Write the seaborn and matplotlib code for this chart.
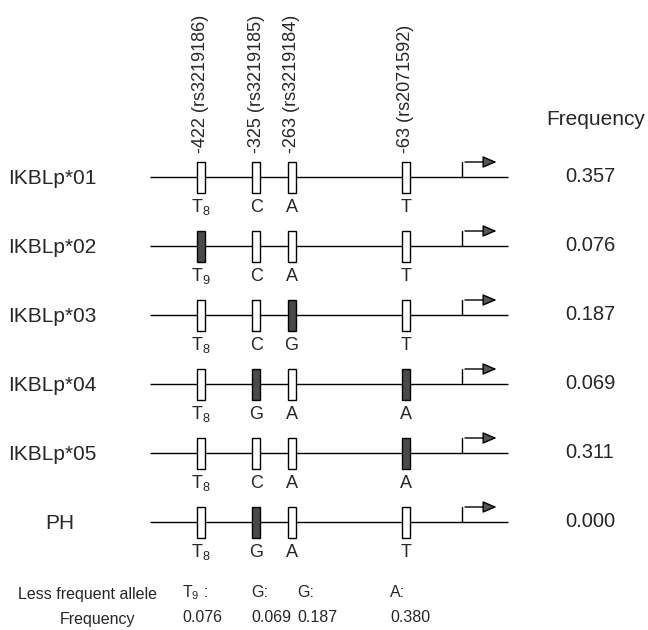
import matplotlib
matplotlib.use("Agg")
import matplotlib.pyplot as plt
import numpy as np
import pandas as pd
import seaborn as sns

# haplotypes and SNP sites (bp upstream of transcription start)
haplotypes = ["IKBLp*01", "IKBLp*02", "IKBLp*03", "IKBLp*04", "IKBLp*05", "PH"]
freqs = ["0.357", "0.076", "0.187", "0.069", "0.311", "0.000"]
sites = [-422, -325, -263, -63]
site_labels = ["-422 (rs3219186)", "-325 (rs3219185)", "-263 (rs3219184)", "-63 (rs2071592)"]
alleles = [
    ["T_8", "C", "A", "T"],
    ["T_9", "C", "A", "T"],
    ["T_8", "C", "G", "T"],
    ["T_8", "G", "A", "A"],
    ["T_8", "C", "A", "A"],
    ["T_8", "G", "A", "T"],
]
# 1 = less frequent allele (filled box)
minor = [
    [0, 0, 0, 0],
    [1, 0, 0, 0],
    [0, 0, 1, 0],
    [0, 1, 0, 1],
    [0, 0, 0, 1],
    [0, 1, 0, 0],
]
minor_allele = ["T_9 :", "G:", "G:", "A:"]
minor_freq = ["0.076", "0.069", "0.187", "0.380"]

sns.set_theme(style="white")
plt.rcParams["font.family"] = ["Liberation Sans", "DejaVu Sans"]
plt.rcParams["mathtext.fontset"] = "custom"
plt.rcParams["mathtext.rm"] = "Liberation Sans"


def fmt(s):
    # T_8 -> T with subscript 8, plain letters as they are
    if "_" not in s:
        return s
    base, rest = s.split("_", 1)
    return r"$\mathregular{" + base + "_" + rest[0] + "}$" + rest[1:]


fig = plt.figure(figsize=(6.48, 6.30), dpi=100)
ax = fig.add_axes([0, 0, 1, 1])
tx = fig.add_axes([0, 0, 1, 1])  # pixel overlay for text
for a in (ax, tx):
    a.set_ylim(630, 0)
    a.axis("off")
    a.patch.set_alpha(0)
ax.set_xlim(-773.7, 361.4)
tx.set_xlim(0, 648)

rows = 177 + 69 * np.arange(len(haplotypes))
boxes = pd.DataFrame(
    [(sites[j], rows[i], minor[i][j], alleles[i][j]) for i in range(len(rows)) for j in range(len(sites))],
    columns=["pos", "row", "minor", "allele"],
)

ax.hlines(rows, -511, 116, color="black", lw=1.0, zorder=1)
ax.bar(boxes["pos"], 31, bottom=boxes["row"] - 15.5, width=14,
       color=np.where(boxes["minor"] == 1, "#4a4a4a", "white"),
       edgecolor="black", linewidth=1.0, zorder=2)

for _, b in boxes.iterrows():
    ax.text(b["pos"], b["row"] + 35, fmt(b["allele"]), ha="center", va="baseline", fontsize=13)

# transcription start arrows
for y in rows:
    ax.plot([36, 36], [y, y - 15], color="black", lw=1.0)
    ax.annotate("", xy=(101, y - 15), xytext=(36, y - 15),
                arrowprops=dict(arrowstyle="-|>,head_length=0.7,head_width=0.3",
                                color="black", lw=1.0, fc="#555555"))

for s, lab in zip(sites, site_labels):
    ax.text(s, 153, lab, rotation=90, ha="center", va="bottom", fontsize=13)

label_x = [8, 8, 8, 8, 8, 45]
for x, y, name, f in zip(label_x, rows, haplotypes, freqs):
    tx.text(x, y + 7, name, ha="left", va="baseline", fontsize=15)
    tx.text(590, y + 5, f, ha="center", va="baseline", fontsize=14.5)
tx.text(596, 125, "Frequency", ha="center", va="baseline", fontsize=15)

tx.text(18, 599, "Less frequent allele", ha="left", va="baseline", fontsize=11.5)
tx.text(60, 624, "Frequency", ha="left", va="baseline", fontsize=11.5)
for x, a, f in zip([182, 251, 297, 390], minor_allele, minor_freq):
    tx.text(x, 597, fmt(a), ha="left", va="baseline", fontsize=11.5)
    tx.text(x, 622, f, ha="left", va="baseline", fontsize=11.5)

fig.savefig("out.png", dpi=100)
